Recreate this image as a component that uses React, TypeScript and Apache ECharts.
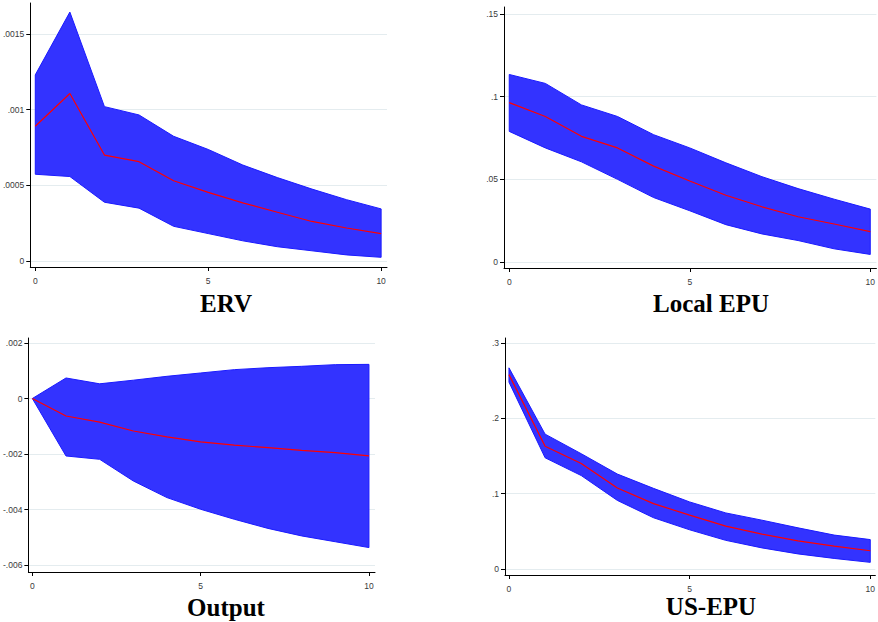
import React, { useEffect, useRef } from "react";
import * as echarts from "echarts";

// horizon (steps)
const steps = [0, 1, 2, 3, 4, 5, 6, 7, 8, 9, 10];
const xTicks = [0, 5, 10];

// ERV
const erv_upper = [0.00123, 0.001645, 0.00102, 0.000965, 0.000824, 0.000737, 0.000634, 0.000551, 0.000475, 0.000405, 0.000344];
const erv_irf = [0.00089, 0.001107, 0.0007, 0.000656, 0.00053, 0.000453, 0.000384, 0.000322, 0.000261, 0.000218, 0.000181];
const erv_lower = [0.000573, 0.000558, 0.000388, 0.000349, 0.000229, 0.000181, 0.000133, 0.000094, 0.000067, 0.00004, 0.000024];
const erv_ticks = [0, 0.0005, 0.001, 0.0015];

// Local EPU
const lepu_upper = [0.1134, 0.108, 0.095, 0.088, 0.077, 0.069, 0.06, 0.0516, 0.0444, 0.038, 0.032];
const lepu_irf = [0.0964, 0.088, 0.076, 0.069, 0.058, 0.049, 0.0404, 0.0334, 0.0274, 0.023, 0.0184];
const lepu_lower = [0.079, 0.069, 0.0606, 0.05, 0.039, 0.031, 0.0226, 0.017, 0.013, 0.008, 0.0046];
const lepu_ticks = [0, 0.05, 0.1, 0.15];

// Output
const out_upper = [0, 0.00074, 0.00053, 0.00066, 0.0008, 0.00092, 0.00104, 0.00111, 0.00116, 0.00122, 0.00123];
const out_irf = [0, -0.00063, -0.00085, -0.00117, -0.00138, -0.00156, -0.00168, -0.00177, -0.00187, -0.00195, -0.00207];
const out_lower = [0, -0.00207, -0.00219, -0.00297, -0.00357, -0.00399, -0.00435, -0.00468, -0.00495, -0.00516, -0.00537];
const out_ticks = [-0.006, -0.004, -0.002, 0, 0.002];

// US-EPU
const usepu_upper = [0.267, 0.179, 0.153, 0.126, 0.107, 0.089, 0.0744, 0.0648, 0.0546, 0.045, 0.039];
const usepu_irf = [0.258, 0.163, 0.14, 0.1075, 0.0868, 0.0714, 0.0568, 0.0463, 0.0374, 0.0304, 0.0242];
const usepu_lower = [0.248, 0.1476, 0.124, 0.091, 0.068, 0.052, 0.038, 0.028, 0.02, 0.014, 0.0088];
const usepu_ticks = [0, 0.1, 0.2, 0.3];

const titles = ["ERV", "Local EPU", "Output", "US-EPU"];

const panels = [
  { title: titles[0], upper: erv_upper, irf: erv_irf, lower: erv_lower, ticks: erv_ticks,
    grid: { left: 30, top: 3, width: 357, height: 264 }, y: [-0.00004, 0.001705], x: [-0.145, 10.17], t: [226, 303] },
  { title: titles[1], upper: lepu_upper, irf: lepu_irf, lower: lepu_lower, ticks: lepu_ticks,
    grid: { left: 504, top: 7, width: 375, height: 261 }, y: [-0.0036, 0.1542], x: [-0.145, 10.17], t: [711, 303] },
  { title: titles[2], upper: out_upper, irf: out_irf, lower: out_lower, ticks: out_ticks,
    grid: { left: 27, top: 338, width: 348, height: 234 }, y: [-0.00625, 0.00218], x: [-0.118, 10.18], t: [226, 607] },
  { title: titles[3], upper: usepu_upper, irf: usepu_irf, lower: usepu_lower, ticks: usepu_ticks,
    grid: { left: 505, top: 338, width: 373, height: 237 }, y: [-0.008, 0.3066], x: [-0.11, 10.14], t: [711, 606] },
];

const fmt = (v: number) => (v === 0 ? "0" : String(v).replace("0.", "."));

const labelFont = {
  fontFamily: "'Liberation Sans Narrow', 'Liberation Sans', Arial, sans-serif",
  fontSize: 8.5,
  color: "#3a3a3a",
};

export default function App() {
  const ref = useRef<HTMLDivElement>(null);
  useEffect(() => {
    if (!ref.current) return;
    const chart = echarts.init(ref.current, undefined, { renderer: "svg" });
    const grid: any[] = [];
    const xAxis: any[] = [];
    const yAxis: any[] = [];
    const series: any[] = [];
    const graphic: any[] = [];
    panels.forEach((p, k) => {
      grid.push({ ...p.grid, containLabel: false });
      xAxis.push({
        type: "value",
        gridIndex: k,
        min: p.x[0],
        max: p.x[1],
        axisLine: { show: true, onZero: false, lineStyle: { color: "#000", width: 1 } },
        axisTick: { show: true, length: 4, customValues: xTicks, lineStyle: { color: "#000" } },
        axisLabel: { ...labelFont, margin: 9, customValues: xTicks, formatter: (v: number) => String(v) },
        splitLine: { show: false },
      });
      yAxis.push({
        type: "value",
        gridIndex: k,
        min: p.y[0],
        max: p.y[1],
        axisLine: { show: true, onZero: false, lineStyle: { color: "#000", width: 1 } },
        axisTick: { show: true, length: 4, customValues: p.ticks, lineStyle: { color: "#000" } },
        axisLabel: { ...labelFont, margin: 6, customValues: p.ticks, formatter: fmt },
        splitLine: { show: true, lineStyle: { color: "#e4ecef", width: 1 } },
      });
      // confidence band as one polygon built through the axes
      series.push({
        type: "custom",
        xAxisIndex: k,
        yAxisIndex: k,
        silent: true,
        z: 2,
        data: steps.map((s, i) => [s, p.lower[i], p.upper[i]]),
        renderItem: (params: any, api: any) => {
          if (params.dataIndexInside !== 0) return null;
          const n = steps.length;
          const lo: number[][] = [];
          const up: number[][] = [];
          for (let i = 0; i < n; i++) {
            const x = api.value(0, i);
            lo.push(api.coord([x, api.value(1, i)]));
            up.push(api.coord([x, api.value(2, i)]));
          }
          const pts = lo.concat(up.reverse());
          return {
            type: "polygon",
            shape: { points: pts },
            style: { fill: "#3333ff", stroke: "#1a1aff", lineWidth: 1 },
          };
        },
      });
      series.push({
        type: "line",
        xAxisIndex: k,
        yAxisIndex: k,
        symbol: "none",
        silent: true,
        z: 5,
        lineStyle: { color: "#ff0000", width: 1.2 },
        data: steps.map((s, i) => [s, p.irf[i]]),
      });
      graphic.push({
        type: "text",
        x: p.t[0],
        y: p.t[1],
        style: {
          text: p.title,
          font: "bold 25px 'Liberation Serif', 'DejaVu Serif', serif",
          fill: "#000",
          textAlign: "center",
          textVerticalAlign: "middle",
        },
      });
    });
    chart.setOption({
      animation: false,
      backgroundColor: "#ffffff",
      grid,
      xAxis,
      yAxis,
      series,
      graphic,
    });
    return () => chart.dispose();
  }, []);
  return (
    <div
      ref={ref}
      style={{ position: "fixed", left: 0, top: 0, width: 878, height: 622 }}
    />
  );
}
